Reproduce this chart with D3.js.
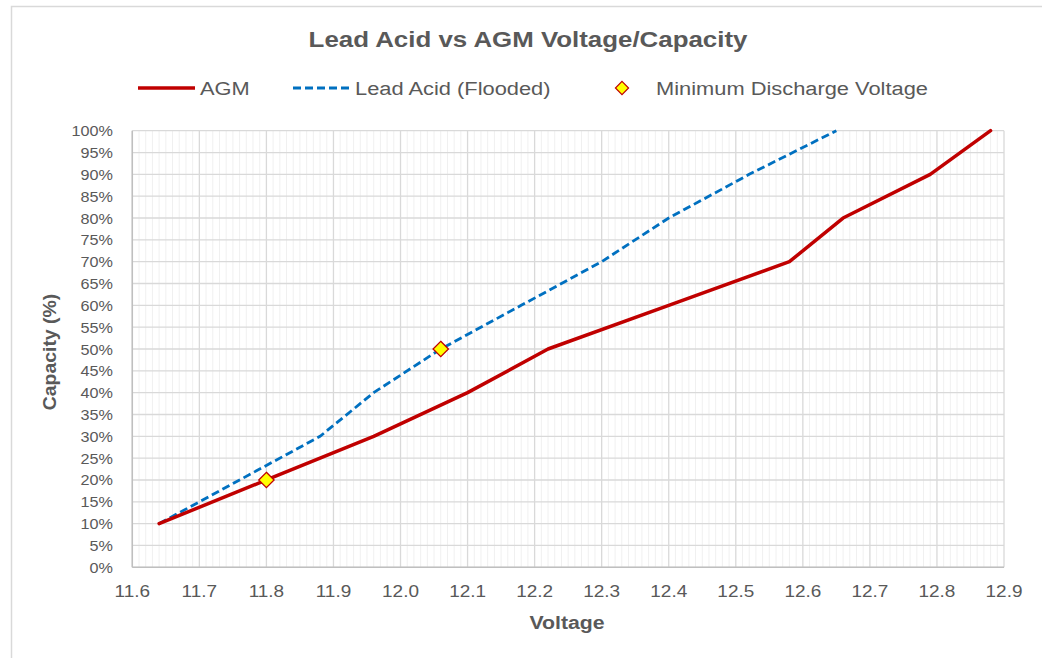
<!DOCTYPE html>
<html><head><meta charset="utf-8">
<script src="https://cdn.jsdelivr.net/npm/d3@7"></script>
<style>body{margin:0;background:#fff}text{font-family:"Liberation Sans",Arial,sans-serif;fill:#595959}</style>
</head><body>
<svg id="c" width="1042" height="658"></svg>
<script>
const agmVolt = [11.64, 11.80, 11.96, 12.10, 12.22, 12.40, 12.58, 12.66, 12.79, 12.88];
const agmCap  = [10, 20, 30, 40, 50, 60, 70, 80, 90, 100];
const floodVolt = [11.64, 11.76, 11.88, 11.96, 12.06, 12.18, 12.30, 12.40, 12.52, 12.65];
const floodCap  = [10, 20, 30, 40, 50, 60, 70, 80, 90, 100];
const minVolt = [11.80, 12.06];
const minCap  = [20, 50];
const xTicks = [11.6, 11.7, 11.8, 11.9, 12.0, 12.1, 12.2, 12.3, 12.4, 12.5, 12.6, 12.7, 12.8, 12.9];
const yTicks = [0,5,10,15,20,25,30,35,40,45,50,55,60,65,70,75,80,85,90,95,100];

const SX = 1.15;
const svg = d3.select("#c");
svg.append("rect").attr("x",11.5).attr("y",6.5).attr("width",1100).attr("height",700)
  .attr("fill","#fff").attr("stroke","#d9d9d9").attr("stroke-width",1.5);

const L=132.3, R=1004, T=130.7, B=567.3;
const x = d3.scaleLinear().domain([11.6,12.9]).range([L,R]);
const y = d3.scaleLinear().domain([0,100]).range([B,T]);

function txt(g, xx, yy, s, opts={}) {
  const t = g.append("text").attr("transform",`translate(${xx},${yy}) ${opts.rot?`rotate(${opts.rot})`:''} scale(${opts.sx||SX},1)`)
    .attr("text-anchor",opts.anchor||"middle").attr("font-size",opts.size||15.5)
    .attr("font-weight",opts.bold?"bold":"normal").text(s);
  return t;
}

// minor vertical grid
const minor = d3.range(1160,1291).map(v=>v/100).filter(v=>Math.round(v*100)%10!==0);
svg.append("g").selectAll("line").data(minor).join("line")
  .attr("x1",d=>x(d)).attr("x2",d=>x(d)).attr("y1",T).attr("y2",B)
  .attr("stroke","#f0f0f0").attr("stroke-width",1);
// horizontal grid
svg.append("g").selectAll("line").data(yTicks).join("line")
  .attr("x1",L).attr("x2",R).attr("y1",d=>y(d)).attr("y2",d=>y(d))
  .attr("stroke","#d9d9d9").attr("stroke-width",1.3);
// major vertical grid
svg.append("g").selectAll("line").data(xTicks).join("line")
  .attr("x1",d=>x(d)).attr("x2",d=>x(d)).attr("y1",T).attr("y2",B)
  .attr("stroke","#d9d9d9").attr("stroke-width",1.3);
// axes lines
svg.append("line").attr("x1",L).attr("x2",R).attr("y1",B).attr("y2",B).attr("stroke","#bfbfbf").attr("stroke-width",1.5);
svg.append("line").attr("x1",L).attr("x2",L).attr("y1",T).attr("y2",B).attr("stroke","#bfbfbf").attr("stroke-width",1.5);

// tick labels
const g = svg.append("g");
xTicks.forEach(v=>txt(g, x(v), 597, v.toFixed(1), {size:16.5}));
yTicks.forEach(v=>txt(g, 113, y(v)+5.5, v+"%", {size:15, anchor:"end", sx:1.08}));

// lines
const line = d3.line().x(d=>x(d[0])).y(d=>y(d[1]));
svg.append("path").datum(floodVolt.map((v,i)=>[v,floodCap[i]])).attr("d",line)
  .attr("fill","none").attr("stroke","#0070c0").attr("stroke-width",2.8).attr("stroke-dasharray","8,4");
svg.append("path").datum(agmVolt.map((v,i)=>[v,agmCap[i]])).attr("d",line)
  .attr("fill","none").attr("stroke","#c00000").attr("stroke-width",3.5).attr("stroke-linejoin","round").attr("stroke-linecap","round");
const diamond = d3.symbol().type(d3.symbolDiamond2).size(150);
svg.append("g").selectAll("path").data(minVolt.map((v,i)=>[v,minCap[i]])).join("path")
  .attr("d",diamond).attr("transform",d=>`translate(${x(d[0])},${y(d[1])})`)
  .attr("fill","#ffff00").attr("stroke","#c00000").attr("stroke-width",1.3);

// title
txt(svg, 528, 47, "Lead Acid vs AGM Voltage/Capacity", {size:22.5, bold:true});
// legend
const ly = 88;
svg.append("line").attr("x1",138).attr("x2",195).attr("y1",ly).attr("y2",ly).attr("stroke","#c00000").attr("stroke-width",3.5);
txt(svg, 200, ly+7, "AGM", {size:19, anchor:"start"});
svg.append("line").attr("x1",293).attr("x2",350).attr("y1",ly).attr("y2",ly).attr("stroke","#0070c0").attr("stroke-width",2.8).attr("stroke-dasharray","8,4");
txt(svg, 355, ly+7, "Lead Acid (Flooded)", {size:19, anchor:"start"});
svg.append("path").attr("d",d3.symbol().type(d3.symbolDiamond2).size(110)()).attr("transform",`translate(622,${ly})`)
  .attr("fill","#ffff00").attr("stroke","#c00000").attr("stroke-width",1.2);
txt(svg, 656, ly+7, "Minimum Discharge Voltage", {size:19, anchor:"start"});

// axis titles
txt(svg, 567, 629, "Voltage", {size:18.5, bold:true});
txt(svg, 56, 352, "Capacity (%)", {size:18.5, bold:true, rot:-90, sx:1.05});
</script>
</body></html>
